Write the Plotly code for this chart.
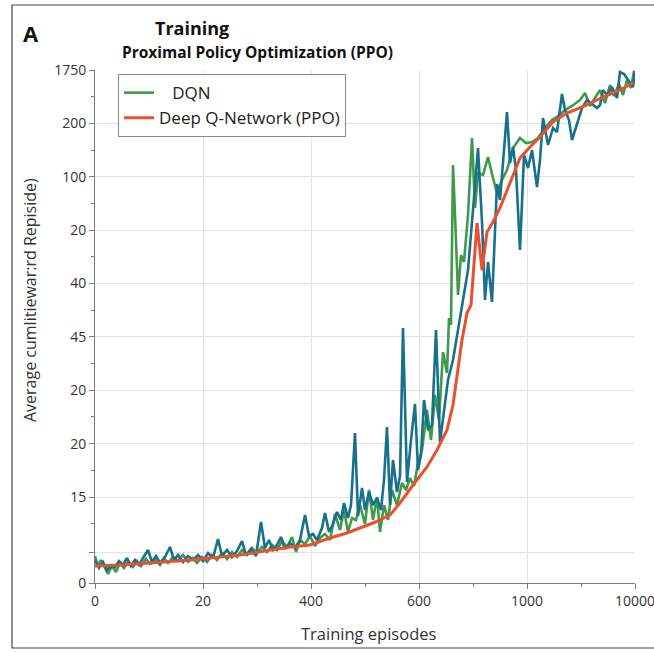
import plotly.graph_objects as go

# ---- data (axis units: episode index 0..540, reward index 0..513) ----
x_tickvals = [0, 108, 216, 324, 432, 540]
x_ticktext = ["0", "20", "400", "600", "1000", "10000"]
x_minor = [54, 162, 270, 378, 486]

y_tickvals = [0, 31, 86, 139.4, 192.75, 246.1, 299.5, 352.9, 406.25, 459.6, 513]
y_ticktext = ["0", "", "15", "20", "20", "45", "40", "20", "100", "200", "1750"]
y_minor = [60, 112.7, 166.1, 219.4, 272.8, 326.2, 379.6, 432.9, 486.3]

red_x = [0, 25, 55, 95, 145, 195, 215, 235, 252, 265, 278, 295, 305, 318, 332, 342, 352, 358, 362,
         367, 372, 376, 382, 387, 392, 398, 405, 415, 425, 435, 445, 458, 472, 492, 508, 525, 538]
red_y = [17, 18, 20, 23, 28, 36, 38, 45, 50, 55, 60, 68, 80, 98, 116, 133, 153, 178, 205,
         243, 270, 278, 360, 313, 351, 361, 375, 401, 425, 436, 446, 461, 470, 478, 486, 493, 500]

teal_x = [0, 4, 8, 12, 16, 20, 24, 28, 32, 36, 40, 44, 48, 53, 57, 61, 65, 70, 75, 79, 83, 88, 93, 98,
          103, 108, 113, 118, 123, 127, 132, 137, 142, 147, 151, 156, 161, 166, 170, 174, 178, 182,
          186, 190, 195, 200, 205, 210, 214, 218, 222, 227, 230, 234, 238, 242, 246, 249, 253, 256,
          260, 263, 267, 270, 274, 278, 282, 286, 289, 292, 295, 298, 302, 305, 308, 312, 316, 320,
          323, 326, 329, 333, 337, 341, 345, 349, 353, 358, 363, 368, 373, 378, 383, 387, 390, 393,
          397, 402, 405, 409, 412, 415, 418, 421, 425, 429, 433, 437, 442, 445, 448, 453, 458, 462,
          467, 470, 474, 477, 482, 487, 492, 497, 502, 505, 508, 512, 517, 522, 525, 529, 533, 538, 540]
teal_y = [23, 15, 21, 13, 17, 16, 22, 18, 25, 17, 23, 18, 25, 33, 21, 27, 20, 26, 36, 23, 28, 21, 27, 23,
          28, 22, 30, 25, 44, 27, 33, 26, 32, 42, 28, 34, 27, 61, 35, 43, 33, 38,
          46, 34, 40, 35, 43, 68, 47, 49, 43, 55, 70, 51, 59, 71, 63, 80, 65, 78,
          150, 67, 95, 73, 91, 78, 85, 73, 103, 156, 78, 123, 91, 107, 255, 101, 143, 179,
          113, 128, 183, 153, 158, 253, 141, 173, 203, 223, 253, 283, 313, 373, 435, 361, 283, 321,
          281, 399, 383, 433, 471, 420, 436, 413, 333, 428, 415, 433, 396, 423, 465, 438, 455, 451,
          489, 473, 463, 443, 458, 475, 483, 479, 475, 478, 493, 488, 496, 485, 511, 509, 503, 496, 512]

dqn_x = [0, 3, 6, 10, 13, 17, 21, 25, 29, 33, 38, 42, 46, 51, 55, 60, 65, 69, 73, 78, 83, 88, 93, 98,
         102, 107, 112, 117, 122, 127, 132, 137, 142, 147, 152, 157, 162, 167, 172, 177, 182, 187,
         192, 197, 201, 205, 210, 215, 220, 225, 230, 235, 240, 245, 249, 253, 257, 261, 265, 270,
         274, 278, 282, 285, 289, 293, 297, 302, 307, 311, 315, 319, 323, 327, 332, 336, 340, 344,
         348, 352, 354, 356, 358, 361, 363, 366, 369, 373, 377, 380, 383, 388, 393, 398, 402, 407,
         412, 418, 425, 431, 437, 443, 450, 457, 463, 470, 477, 485, 490, 495, 501, 505, 510, 515,
         519, 524, 528, 532, 536, 539, 540]
dqn_y = [27, 17, 23, 15, 9, 17, 11, 20, 15, 21, 16, 22, 17, 24, 19, 23, 18, 25, 20, 26, 22, 28, 21, 25,
         20, 26, 21, 28, 23, 30, 24, 31, 26, 33, 28, 35, 30, 36, 31, 38, 33, 42,
         36, 46, 31, 43, 39, 47, 37, 45, 49, 43, 69, 53, 73, 51, 65, 63, 78, 59,
         93, 63, 86, 51, 78, 63, 93, 78, 100, 93, 105, 97, 120, 133, 173, 143, 188, 163,
         231, 210, 265, 258, 418, 343, 288, 328, 321, 368, 445, 375, 410, 408, 426, 405, 390, 403,
         413, 435, 445, 440, 441, 445, 455, 463, 467, 473, 477, 483, 490, 477, 487, 493, 480, 498,
         487, 499, 488, 503, 495, 512, 508]

GREEN = "#3f9a4c"
TEAL = "#17718a"
RED = "#e8502e"
FONT = "Open Sans"

fig = go.Figure()
fig.add_trace(go.Scatter(x=dqn_x, y=dqn_y, mode="lines", name="\u00a0\u00a0\u00a0DQN",
                         line=dict(color=GREEN, width=2.6)))
fig.add_trace(go.Scatter(x=teal_x, y=teal_y, mode="lines", showlegend=False,
                         line=dict(color=TEAL, width=2.6)))
fig.add_trace(go.Scatter(x=red_x, y=red_y, mode="lines", name="Deep Q-Network (PPO)",
                         line=dict(color=RED, width=3)))

fig.update_layout(
    width=654, height=653,
    margin=dict(l=95, r=19, t=70, b=70, autoexpand=False),
    paper_bgcolor="white", plot_bgcolor="white",
    font=dict(family=FONT, color="#333", size=14),
    showlegend=True,
    legend=dict(x=0.0426, y=0.992, xanchor="left", yanchor="top",
                bgcolor="white", bordercolor="#8a8a8a", borderwidth=1,
                font=dict(size=17, color="#222"), tracegroupgap=0),
    xaxis=dict(range=[0, 540], tickmode="array", tickvals=x_tickvals, ticktext=x_ticktext,
               showgrid=True, gridcolor="#e3e3e3", gridwidth=1, automargin=False,
               showline=True, linecolor="#7a7a7a", linewidth=1,
               ticks="outside", ticklen=5, tickcolor="#7a7a7a", zeroline=False,
               tickfont=dict(size=14, color="#333"), ticklabeloverflow="allow",
               minor=dict(tickvals=x_minor, ticks="outside", ticklen=3, tickcolor="#7a7a7a",
                          showgrid=False)),
    yaxis=dict(range=[0, 513], tickmode="array", tickvals=y_tickvals, ticktext=y_ticktext,
               showgrid=True, gridcolor="#e3e3e3", gridwidth=1, automargin=False,
               showline=True, linecolor="#7a7a7a", linewidth=1,
               ticks="outside", ticklen=5, tickcolor="#7a7a7a", zeroline=False,
               tickfont=dict(size=14, color="#333"),
               minor=dict(tickvals=y_minor, ticks="outside", ticklen=3, tickcolor="#7a7a7a",
                          showgrid=False)),
    shapes=[dict(type="rect", xref="paper", yref="paper", x0=-0.1537, x1=1.06,
                 y0=-0.1267, y1=1.1267, line=dict(color="#444", width=1.2), layer="below")],
    annotations=[
        dict(text="<b>A</b>", x=-0.137, y=1.072, xref="paper", yref="paper", xanchor="left",
             yanchor="middle", showarrow=False, font=dict(size=22, color="#111", family=FONT)),
        dict(text="<b>Training</b>", x=0.107, y=1.082, xref="paper", yref="paper", xanchor="left",
             yanchor="middle", showarrow=False, font=dict(size=18, color="#111", family=FONT)),
        dict(text="<b>Proximal Policy Optimization (PPO)</b>", x=0.046, y=1.035, xref="paper",
             yref="paper", xanchor="left", yanchor="middle", showarrow=False,
             font=dict(size=15.5, color="#111", family=FONT)),
        dict(text="Training episodes", x=0.506, y=-0.0975, xref="paper", yref="paper",
             xanchor="center", yanchor="middle", showarrow=False,
             font=dict(size=16.5, color="#333", family=FONT)),
        dict(text="Average cumlitiewar:rd Repiside)", x=-0.12, y=0.552, xref="paper",
             yref="paper", xanchor="center", yanchor="middle", textangle=-90, showarrow=False,
             font=dict(size=16, color="#333", family=FONT)),
    ],
)

fig.write_html("out.html", config={"displayModeBar": False},
               post_script="document.body.style.margin='0px';")
